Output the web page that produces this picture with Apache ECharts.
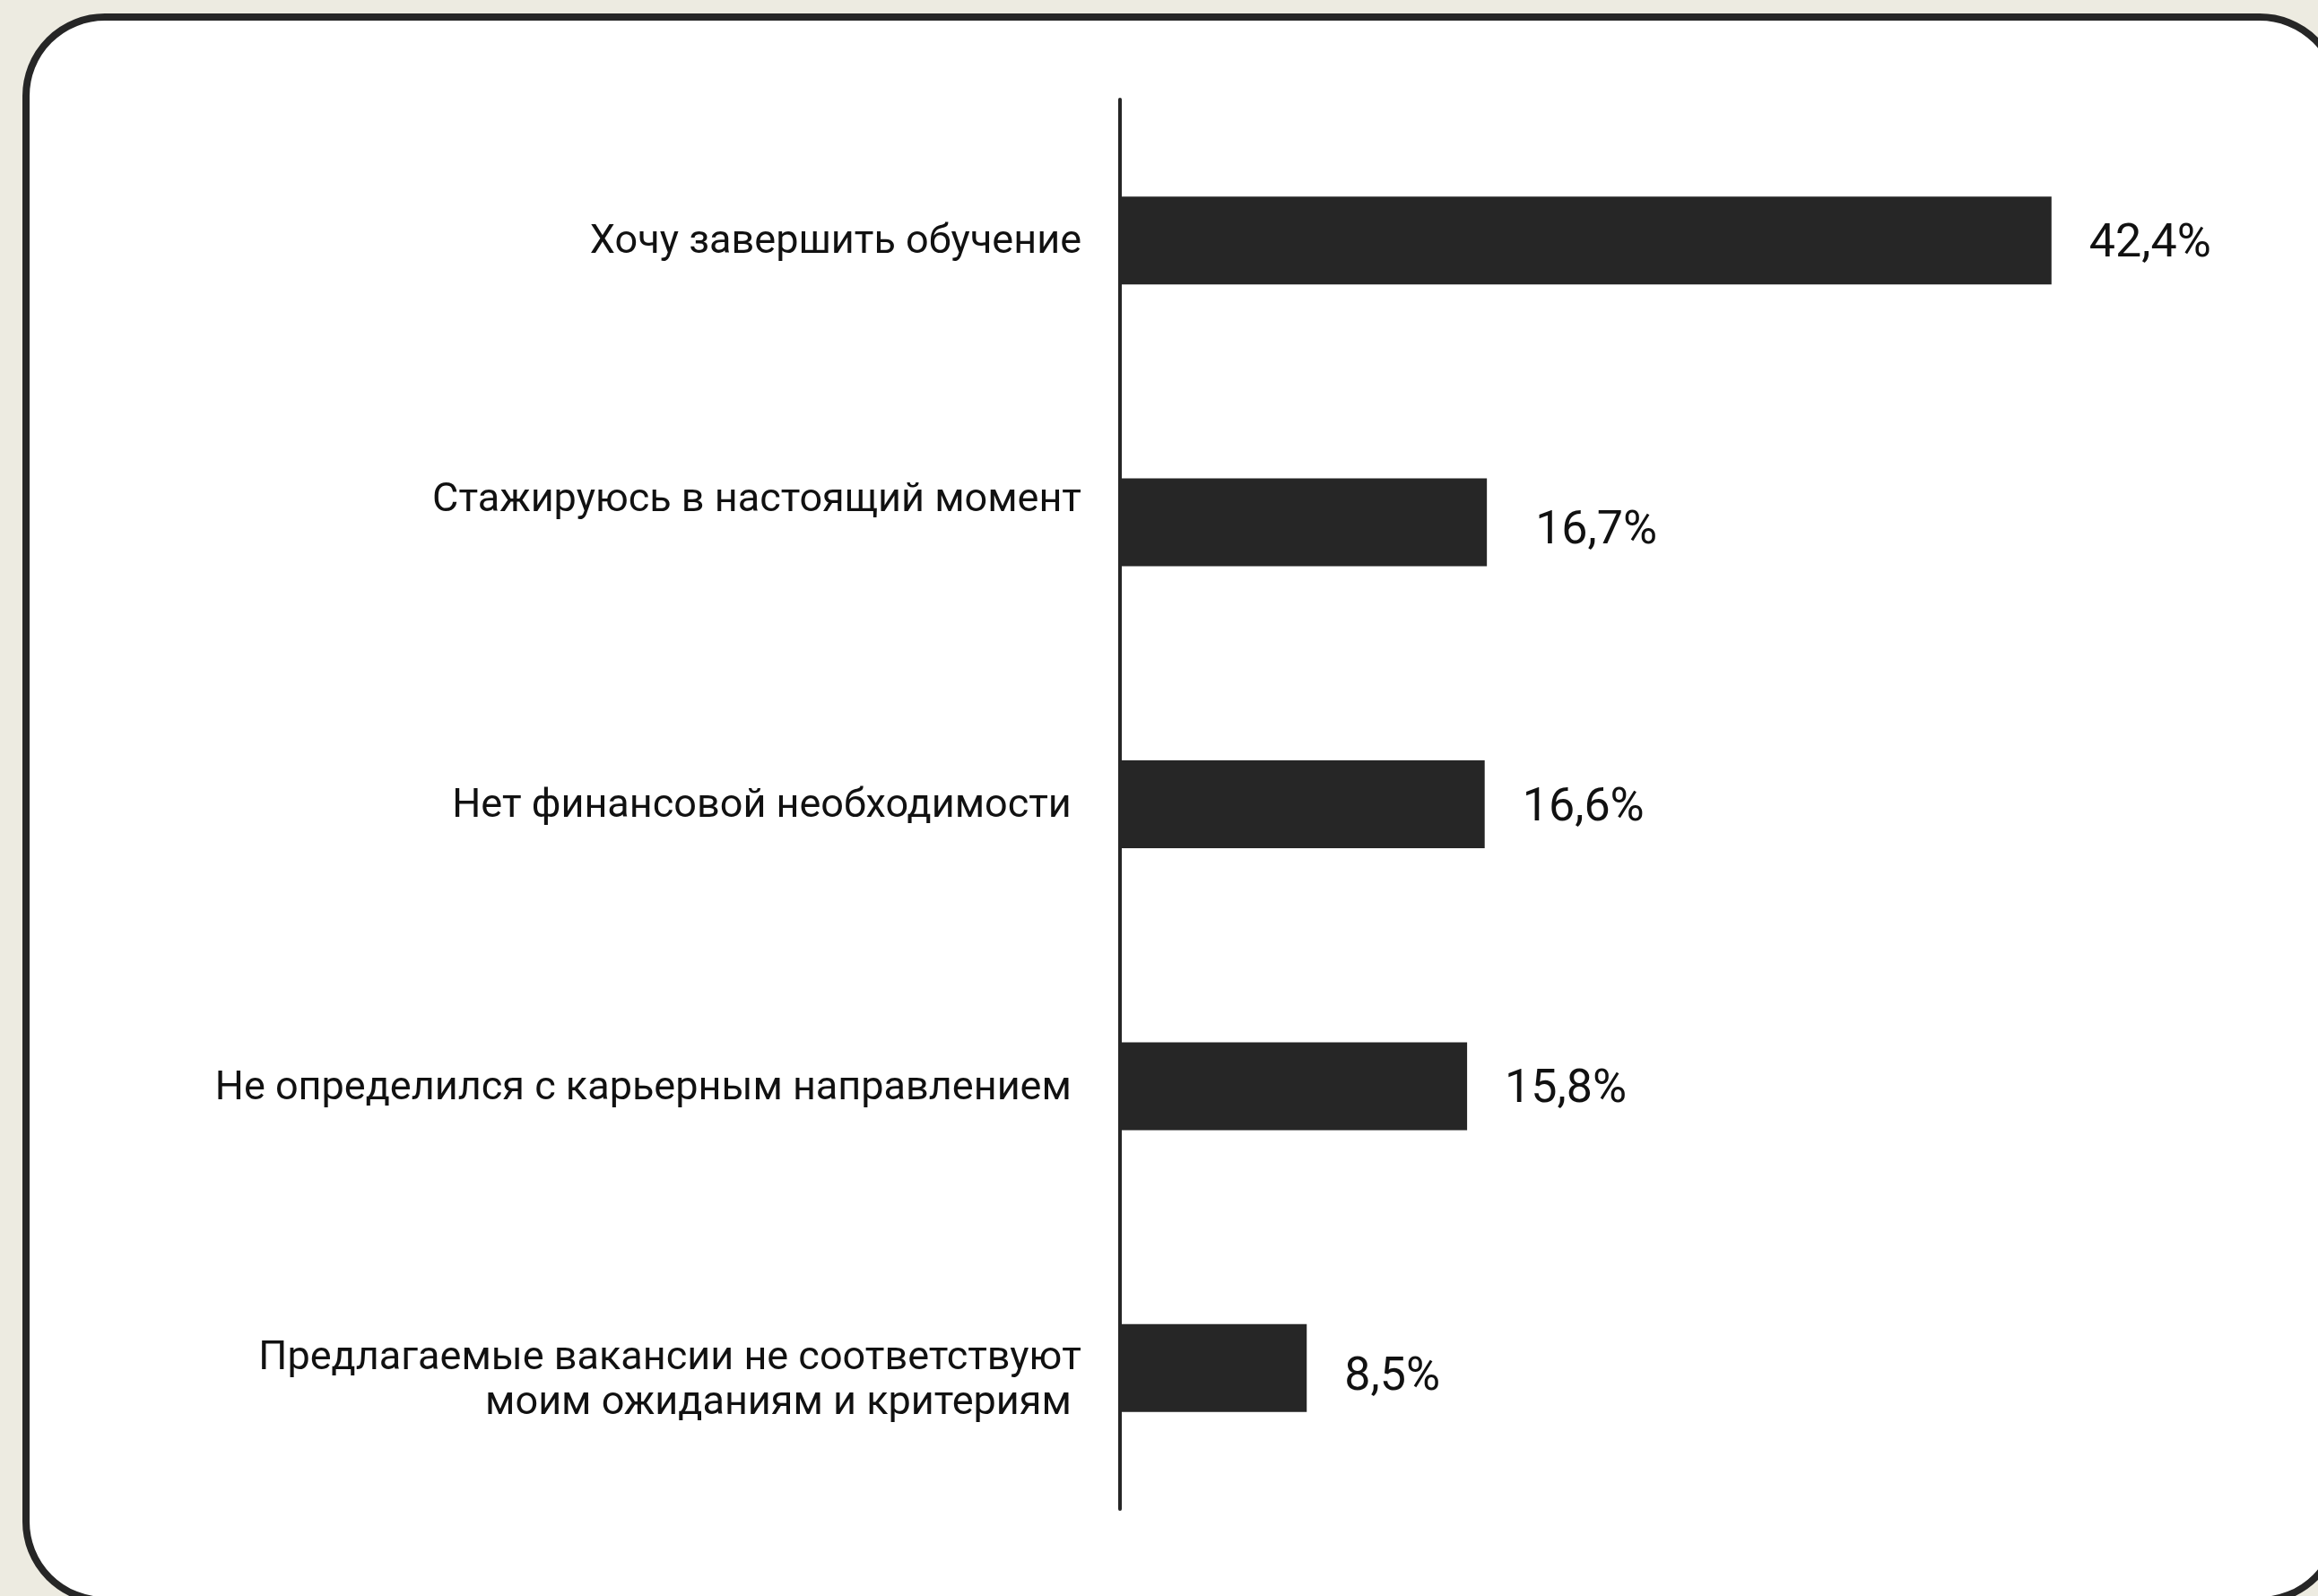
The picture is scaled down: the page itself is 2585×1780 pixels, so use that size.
<!DOCTYPE html>
<html>
<head>
<meta charset="utf-8">
<script src="https://cdn.jsdelivr.net/npm/echarts@6/dist/echarts.min.js"></script>
<style>
  html, body { margin: 0; padding: 0; background: #edebe1; }
  #chart { width: 2585px; height: 1780px; }
</style>
</head>
<body>
<div id="chart"></div>
<script>
// Reasons for not looking for a job right now (share of respondents, %)
const categories = [
  'Хочу завершить обучение',
  'Стажируюсь в настоящий момент',
  'Нет финансовой необходимости ',
  'Не определился с карьерным направлением ',
  'Предлагаемые вакансии не соответствуют\nмоим ожиданиям и критериям '
];
const values = [42.4, 16.7, 16.6, 15.8, 8.5];
const valueLabels = ['42,4%', '16,7%', '16,6%', '15,8%', '8,5%'];

const INK = '#262626';
const FONT = 'Roboto, "Noto Sans", sans-serif';

// empty space above / below each axis label (px), nudging it off the bar centre
const catPad = [[6, 0], [0, 48], [6, 0], [6, 0], [30, 0]];
const valOffset = [[0, 5], [12, 10], [0, 5], [0, 5], [0, 11]];

const chart = echarts.init(document.getElementById('chart'), null, { renderer: 'canvas' });

const labelText = {
  color: '#111111',
  fontFamily: FONT,
  fontSize: 45,
  lineHeight: 50,
  align: 'right'
};

const rich = { n: Object.assign({}, labelText) };
catPad.forEach(p => p.forEach(h => {
  if (h) rich['sp' + h] = { fontSize: 1, lineHeight: h, align: 'right' };
}));

function catLabel(v, i) {
  const [above, below] = catPad[i];
  const lines = v.split('\n').map(line => '{n|' + line + '}');
  if (above) lines.unshift('{sp' + above + '| }');
  if (below) lines.push('{sp' + below + '| }');
  return lines.join('\n');
}

chart.setOption({
  backgroundColor: '#edebe1',
  animation: false,
  graphic: [{
    type: 'rect',
    z: -10,
    silent: true,
    shape: { x: 29, y: 19, width: 2579, height: 1766, r: 88 },
    style: { fill: '#ffffff', stroke: INK, lineWidth: 8 }
  }],
  grid: { left: 1249, top: 111, height: 1572, right: 111 },
  xAxis: {
    type: 'value',
    min: 0,
    max: 50,
    show: false
  },
  yAxis: {
    type: 'category',
    inverse: true,
    data: categories,
    axisLine: { show: true, lineStyle: { color: INK, width: 4 } },
    axisTick: { show: false },
    axisLabel: Object.assign({
      margin: 43,
      formatter: catLabel,
      rich: rich
    }, labelText)
  },
  series: [{
    type: 'bar',
    barWidth: 98,
    itemStyle: { color: INK },
    data: values.map((v, i) => ({
      value: v,
      label: { offset: valOffset[i] }
    })),
    label: {
      show: true,
      position: 'right',
      distance: 42,
      color: '#111111',
      fontFamily: FONT,
      fontSize: 52,
      fontWeight: 400,
      formatter: p => valueLabels[p.dataIndex]
    }
  }]
});
</script>
</body>
</html>
